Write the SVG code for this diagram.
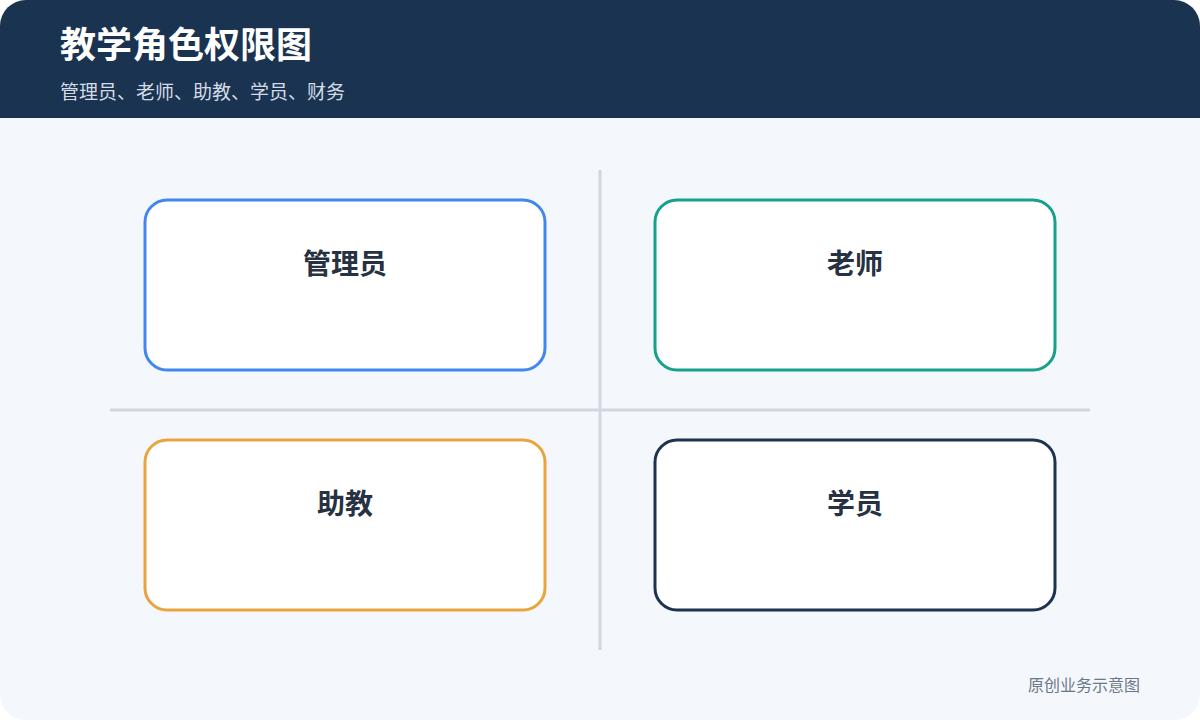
<svg xmlns="http://www.w3.org/2000/svg" width="1200" height="720" viewBox="0 0 1200 720">
<defs>
<clipPath id="card"><rect x="0" y="0" width="1200" height="720" rx="26"/></clipPath>
</defs>
<style>
.title{font-family:"Noto Sans CJK SC","Noto Sans",sans-serif;font-weight:700;font-size:36px;fill:#ffffff}
.sub{font-family:"Noto Sans CJK SC","Noto Sans",sans-serif;font-size:19px;fill:#d3dce7}
.node rect{fill:#ffffff;stroke-width:3}
.label{font-family:"Noto Sans CJK SC","Noto Sans",sans-serif;font-weight:700;font-size:28px;fill:#263142;text-anchor:middle}
.axis{stroke:#d0d7e1;stroke-width:3}
.foot{font-family:"Noto Sans CJK SC","Noto Sans",sans-serif;font-size:16px;fill:#6b7889;text-anchor:end}
</style>
<rect x="0" y="0" width="1200" height="720" fill="#ffffff"/>
<g clip-path="url(#card)">
<rect x="0" y="0" width="1200" height="720" fill="#f4f7fb"/>
<rect x="0" y="0" width="1200" height="118" fill="#1a3350"/>
</g>
<text class="title" x="60" y="58">教学角色权限图</text>
<text class="sub" x="60" y="99">管理员、老师、助教、学员、财务</text>
<g id="connectors">
<line class="axis" x1="600" y1="170" x2="600" y2="650"/>
<line class="axis" x1="110" y1="410" x2="1090" y2="410"/>
</g>
<g id="node-admin" class="node">
<rect x="145" y="200" width="400" height="170" rx="22" stroke="#4287f0"/>
<text class="label" x="345" y="274">管理员</text>
</g>
<g id="node-teacher" class="node">
<rect x="655" y="200" width="400" height="170" rx="22" stroke="#17a08a"/>
<text class="label" x="855" y="274">老师</text>
</g>
<g id="node-assistant" class="node">
<rect x="145" y="440" width="400" height="170" rx="22" stroke="#e9a43f"/>
<text class="label" x="345" y="514">助教</text>
</g>
<g id="node-student" class="node">
<rect x="655" y="440" width="400" height="170" rx="22" stroke="#1e3350"/>
<text class="label" x="855" y="514">学员</text>
</g>
<text class="foot" x="1140" y="691">原创业务示意图</text>
</svg>
